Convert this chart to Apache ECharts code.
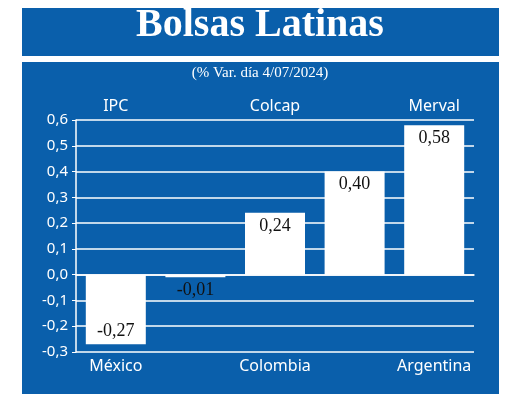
<!DOCTYPE html><html><head><meta charset="utf-8">
<script src="https://cdn.jsdelivr.net/npm/echarts@6/dist/echarts.min.js"></script>
<style>body{margin:0;background:#fff}#c{width:520px;height:412px}</style></head><body><div id="c"></div>
<script>
const countries=['México','Perú','Colombia','Brasil','Argentina'];
const indices=['IPC','General','Colcap','Bovespa','Merval'];
const values=[-0.27,-0.01,0.24,0.40,0.58];
const yTicks=[-0.3,0.6,0.1];
const blue='#0a5fab';
const ch=echarts.init(document.getElementById('c'));
ch.setOption({
 animation:false,
 graphic:[
  {type:'rect',shape:{x:22,y:8,width:477,height:48},style:{fill:blue}},
  {type:'rect',shape:{x:22,y:62,width:477,height:332},style:{fill:blue}},
  {type:'text',left:'center',top:6,style:{text:'Bolsas Latinas',fill:'#fff',font:'bold 40px "Liberation Serif"'}},
  {type:'text',left:'center',top:66,style:{text:'(% Var. día 4/07/2024)',fill:'#fff',font:'15px "Liberation Serif"'}}
 ],
 grid:{left:76,right:46,top:120,bottom:60},
 xAxis:[
  {type:'category',data:countries,position:'bottom',axisLine:{show:true,lineStyle:{color:'#fff',width:1.5}},axisTick:{show:false},axisLabel:{color:'#fff',fontSize:16,fontFamily:'Noto Sans',margin:6}},
  {type:'category',data:indices,position:'top',axisLine:{show:false},axisTick:{show:false},axisLabel:{color:'#fff',fontSize:16,fontFamily:'Noto Sans',margin:6}}
 ],
 yAxis:{type:'value',min:yTicks[0],max:yTicks[1],interval:yTicks[2],
  axisLine:{show:true,lineStyle:{color:'#fff',width:1.5}},axisTick:{show:true,length:4,lineStyle:{color:'#fff'}},
  splitLine:{show:true,lineStyle:{color:'#fff',width:1.5}},
  axisLabel:{color:'#fff',fontSize:15,fontFamily:'Noto Sans',formatter:v=>v.toFixed(1).replace('.',',')}},
 series:[{type:'bar',data:values.map(v=>({value:v,label:{position:v>0?'insideTop':(v>-0.05?'bottom':'insideBottom')}})),barWidth:60,z:5,
  itemStyle:{color:'#fff'},
  label:{show:true,color:'#111',fontSize:18,fontFamily:'Liberation Serif',formatter:p=>p.value.toFixed(2).replace('.',','),distance:4}}]
});
</script></body></html>
